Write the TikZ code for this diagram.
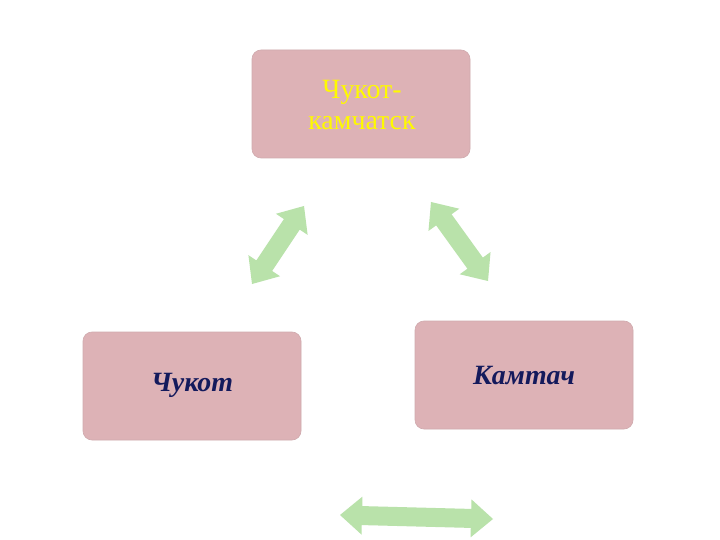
\documentclass[tikz,border=0pt]{standalone}
\usepackage{fontspec}
\setmainfont{Liberation Serif}
\usetikzlibrary{calc}
\definecolor{boxpink}{HTML}{DDB2B6}
\definecolor{arrowgreen}{HTML}{B9E2AA}
\definecolor{navytext}{HTML}{141A5C}
\definecolor{yeltext}{HTML}{FFFA00}
\tikzset{
  box/.style={draw=boxpink!85!gray, line width=0.6bp, fill=boxpink, rounded corners=9bp, inner sep=0pt},
  boxtext/.style={font=\fontsize{28}{32}\selectfont, align=center},
}
% double-headed block arrow: #1 start, #2 end
\newcommand{\dblarrow}[2]{%
  \fill[arrowgreen]
    ($(#1)!22bp!(#2)$) coordinate (h1)
    ($(#2)!22bp!(#1)$) coordinate (h2)
    (#1)
    -- ($(h1)!19bp!90:(#2)$)
    -- ($(h1)!9.5bp!90:(#2)$)
    -- ($(h2)!9.5bp!-90:(#1)$)
    -- ($(h2)!19bp!-90:(#1)$)
    -- (#2)
    -- ($(h2)!19bp!90:(#1)$)
    -- ($(h2)!9.5bp!90:(#1)$)
    -- ($(h1)!9.5bp!-90:(#2)$)
    -- ($(h1)!19bp!-90:(#2)$)
    -- cycle;}
\begin{document}
\begin{tikzpicture}[x=1bp,y=-1bp]
\useasboundingbox (0,0) rectangle (720,540);
\fill[white] (0,0) rectangle (720,540);
% boxes
\draw[box] (252,50) rectangle (470,158);
\draw[box] (83,332) rectangle (301,440);
\draw[box] (415,321) rectangle (633,429);
\node[boxtext, text=yeltext] (top) at (362,105) {Чукот-\\камчатск};
\node[boxtext, text=navytext, font=\fontsize{28}{32}\selectfont\bfseries\itshape] (left) at (192,385) {Чукот};
\node[boxtext, text=navytext, font=\fontsize{28}{32}\selectfont\bfseries\itshape] (right) at (524,376) {Камтач};
% arrows
\coordinate (a1) at (252,284);
\coordinate (b1) at (304,206);
\coordinate (a2) at (431,202);
\coordinate (b2) at (488,281);
\coordinate (a3) at (340,515);
\coordinate (b3) at (493,519);
\dblarrow{a1}{b1}
\dblarrow{a2}{b2}
\dblarrow{a3}{b3}
\end{tikzpicture}
\end{document}
